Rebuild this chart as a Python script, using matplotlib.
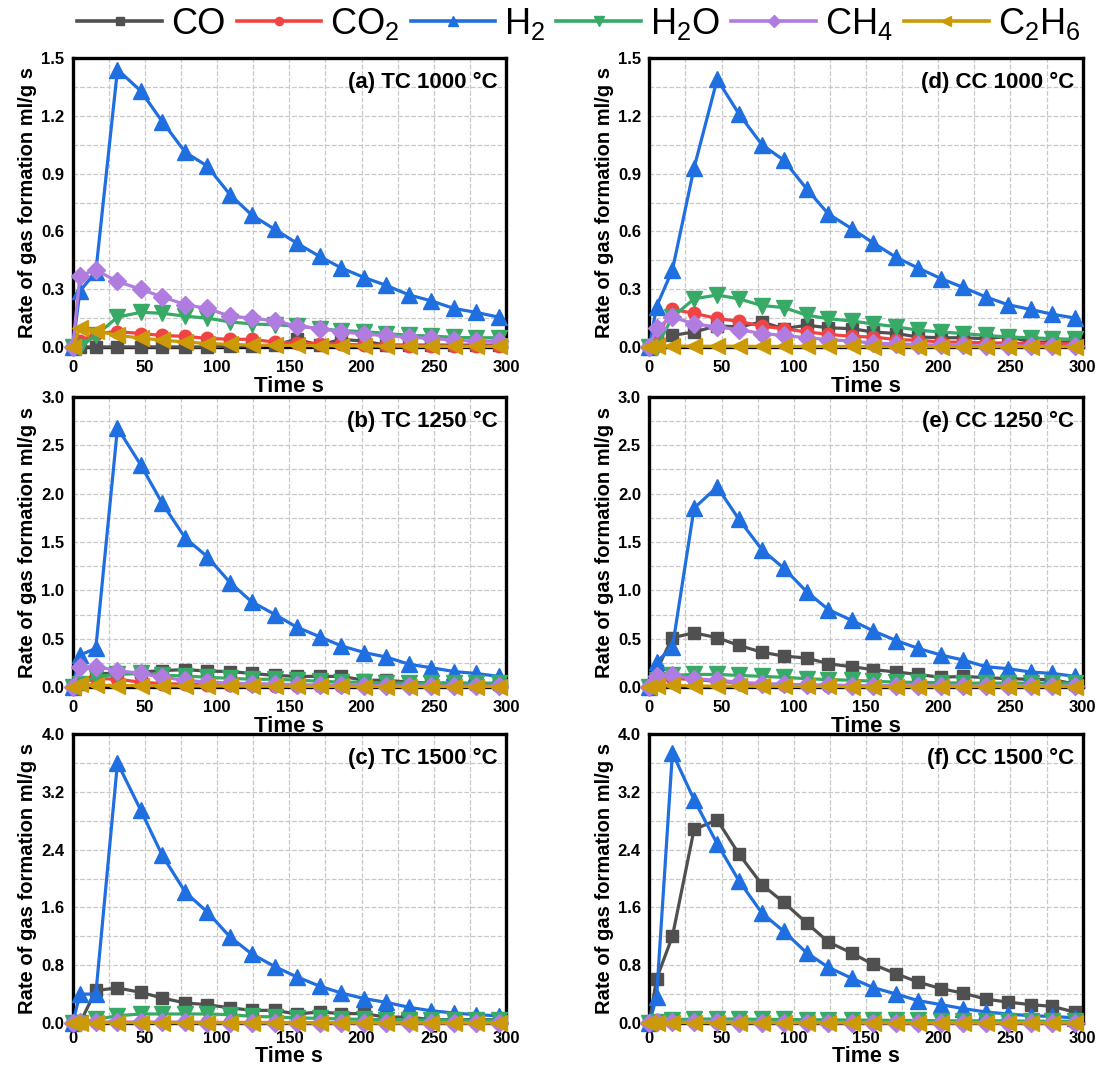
"""Gas formation rate vs time for TC / CC at three temperatures (6 panels)."""

import matplotlib
matplotlib.use("Agg")
import matplotlib.pyplot as plt
from matplotlib.ticker import MultipleLocator, FormatStrFormatter

plt.rcParams["font.family"] = ["Liberation Sans", "DejaVu Sans"]
plt.rcParams["mathtext.fontset"] = "custom"
plt.rcParams["mathtext.rm"] = "Liberation Sans"
plt.rcParams["mathtext.default"] = "regular"

# time axis (s), shared by all panels
time_s = [0, 5, 16, 31, 47, 62, 78, 93, 109, 124, 140, 155, 171, 186, 202, 217, 233, 248, 264, 279, 295]

gas_labels = ["CO", "CO$_2$", "H$_2$", "H$_2$O", "CH$_4$", "C$_2$H$_6$"]
gas_colors = ["#505050", "#f04444", "#1f6fe0", "#36aa66", "#b07ce0", "#cc9a06"]
gas_markers = ["s", "o", "^", "v", "D", "<"]

# (a) TC 1000 °C
co_a = [0, 0, 0, 0, 0, 0, 0, 0, 0.005, 0.005, 0.01, 0.04, 0.01, 0.04, 0.03, 0.01, 0.01, 0.01, 0.01, 0.01, 0.01]
co2_a = [0, 0.03, 0.07, 0.08, 0.07, 0.06, 0.055, 0.045, 0.04, 0.04, 0.025, 0.02, 0.018, 0.015, 0.01, 0.01, 0.006, 0.005, 0.005, 0.005, 0.005]
h2_a = [0, 0.29, 0.39, 1.44, 1.33, 1.17, 1.01, 0.94, 0.79, 0.685, 0.61, 0.54, 0.47, 0.41, 0.36, 0.32, 0.27, 0.24, 0.20, 0.18, 0.155]
h2o_a = [0, 0, 0.06, 0.155, 0.18, 0.175, 0.16, 0.15, 0.13, 0.12, 0.115, 0.11, 0.095, 0.085, 0.08, 0.07, 0.06, 0.057, 0.05, 0.048, 0.048]
ch4_a = [0, 0.37, 0.40, 0.34, 0.30, 0.26, 0.22, 0.20, 0.16, 0.15, 0.135, 0.11, 0.095, 0.08, 0.066, 0.06, 0.05, 0.045, 0.035, 0.03, 0.03]
c2h6_a = [0, 0.10, 0.085, 0.06, 0.047, 0.035, 0.026, 0.018, 0.014, 0.01, 0.009, 0.008, 0.007, 0.006, 0.005, 0.005, 0.004, 0.004, 0.003, 0.003, 0.003]

# (b) TC 1250 °C
co_b = [0, 0.03, 0.14, 0.14, 0.155, 0.17, 0.18, 0.165, 0.16, 0.14, 0.12, 0.11, 0.11, 0.11, 0.07, 0.07, 0.05, 0.04, 0.04, 0.035, 0.035]
co2_b = [0, 0.04, 0.09, 0.08, 0.05, 0.035, 0.03, 0.025, 0.02, 0.02, 0.015, 0.015, 0.01, 0.01, 0.01, 0.01, 0.01, 0.01, 0.01, 0.01, 0.01]
h2_b = [0, 0.33, 0.40, 2.68, 2.30, 1.90, 1.54, 1.35, 1.08, 0.88, 0.75, 0.62, 0.52, 0.425, 0.356, 0.31, 0.235, 0.20, 0.16, 0.14, 0.11]
h2o_b = [0, 0.03, 0.11, 0.13, 0.14, 0.12, 0.115, 0.10, 0.09, 0.08, 0.08, 0.07, 0.06, 0.05, 0.05, 0.04, 0.04, 0.04, 0.04, 0.04, 0.04]
ch4_b = [0, 0.21, 0.21, 0.17, 0.14, 0.10, 0.07, 0.05, 0.04, 0.035, 0.03, 0.025, 0.02, 0.02, 0.015, 0.015, 0.01, 0.01, 0.01, 0.01, 0.01]
c2h6_b = [0, 0.03, 0.02, 0.015, 0.015, 0.012, 0.01, 0.01, 0.01, 0.008, 0.008, 0.007, 0.006, 0.006, 0.005, 0.005, 0.005, 0.005, 0.005, 0.005, 0.005]

# (c) TC 1500 °C
co_c = [0, 0, 0.45, 0.485, 0.425, 0.346, 0.277, 0.254, 0.21, 0.175, 0.175, 0.125, 0.152, 0.13, 0.13, 0.08, 0.083, 0.046, 0.046, 0.046, 0.046]
co2_c = [0, 0.01, 0.01, 0.01, 0.01, 0.01, 0.01, 0.008, 0.008, 0.008, 0.008, 0.006, 0.006, 0.006, 0.005, 0.005, 0.005, 0.005, 0.005, 0.005, 0.005]
h2_c = [0, 0.40, 0.40, 3.60, 2.95, 2.32, 1.81, 1.54, 1.19, 0.955, 0.78, 0.64, 0.51, 0.415, 0.337, 0.286, 0.217, 0.17, 0.138, 0.115, 0.10]
h2o_c = [0, 0, 0.05, 0.10, 0.125, 0.125, 0.125, 0.125, 0.115, 0.092, 0.083, 0.07, 0.065, 0.055, 0.05, 0.046, 0.04, 0.04, 0.04, 0.04, 0.04]
ch4_c = [0, 0.01, 0.01, 0.01, 0.01, 0.008, 0.008, 0.006, 0.006, 0.005, 0.005, 0.005, 0.004, 0.004, 0.004, 0.003, 0.003, 0.003, 0.003, 0.003, 0.003]
c2h6_c = [0, 0.005, 0.005, 0.005, 0.005, 0.004, 0.004, 0.004, 0.004, 0.003, 0.003, 0.003, 0.003, 0.003, 0.003, 0.002, 0.002, 0.002, 0.002, 0.002, 0.002]

# (d) CC 1000 °C
co_d = [0, 0.01, 0.06, 0.078, 0.11, 0.104, 0.13, 0.095, 0.113, 0.10, 0.095, 0.078, 0.07, 0.052, 0.048, 0.048, 0.043, 0.055, 0.026, 0.026, 0.026]
co2_d = [0, 0.05, 0.195, 0.175, 0.148, 0.133, 0.108, 0.095, 0.078, 0.066, 0.055, 0.052, 0.038, 0.035, 0.026, 0.025, 0.022, 0.02, 0.018, 0.017, 0.017]
h2_d = [0, 0.21, 0.40, 0.93, 1.39, 1.21, 1.05, 0.97, 0.82, 0.69, 0.615, 0.54, 0.465, 0.41, 0.355, 0.31, 0.26, 0.22, 0.195, 0.17, 0.15]
h2o_d = [0, 0, 0.155, 0.25, 0.27, 0.25, 0.215, 0.205, 0.165, 0.147, 0.135, 0.12, 0.105, 0.087, 0.078, 0.07, 0.06, 0.052, 0.048, 0.043, 0.04]
ch4_d = [0, 0.10, 0.155, 0.12, 0.104, 0.09, 0.07, 0.06, 0.048, 0.038, 0.031, 0.02, 0.017, 0.012, 0.01, 0.008, 0.006, 0.005, 0.004, 0.003, 0.003]
c2h6_d = [0, 0.005, 0.005, 0.004, 0.004, 0.004, 0.003, 0.003, 0.003, 0.003, 0.003, 0.002, 0.002, 0.002, 0.002, 0.002, 0.002, 0.002, 0.002, 0.002, 0.002]

# (e) CC 1250 °C
co_e = [0, 0.17, 0.51, 0.56, 0.51, 0.43, 0.36, 0.32, 0.30, 0.24, 0.21, 0.18, 0.155, 0.13, 0.10, 0.11, 0.097, 0.086, 0.08, 0.076, 0.03]
co2_e = [0, 0.086, 0.09, 0.076, 0.06, 0.04, 0.03, 0.02, 0.02, 0.015, 0.015, 0.01, 0.01, 0.01, 0.01, 0.008, 0.008, 0.008, 0.006, 0.006, 0.006]
h2_e = [0, 0.26, 0.41, 1.85, 2.07, 1.735, 1.42, 1.23, 0.985, 0.80, 0.69, 0.58, 0.48, 0.40, 0.33, 0.28, 0.21, 0.19, 0.155, 0.14, 0.11]
h2o_e = [0, 0.07, 0.12, 0.13, 0.13, 0.12, 0.11, 0.10, 0.086, 0.076, 0.07, 0.06, 0.05, 0.048, 0.045, 0.04, 0.04, 0.04, 0.04, 0.04, 0.04]
ch4_e = [0, 0.11, 0.12, 0.086, 0.07, 0.05, 0.035, 0.03, 0.02, 0.02, 0.015, 0.015, 0.01, 0.01, 0.01, 0.01, 0.01, 0.008, 0.008, 0.008, 0.008]
c2h6_e = [0, 0.015, 0.017, 0.01, 0.01, 0.008, 0.008, 0.007, 0.006, 0.006, 0.005, 0.005, 0.005, 0.005, 0.005, 0.005, 0.005, 0.005, 0.005, 0.005, 0.005]

# (f) CC 1500 °C
co_f = [0, 0.61, 1.20, 2.68, 2.81, 2.34, 1.915, 1.67, 1.384, 1.12, 0.97, 0.81, 0.68, 0.567, 0.475, 0.415, 0.33, 0.29, 0.254, 0.23, 0.148]
co2_f = [0, 0.01, 0.01, 0.01, 0.01, 0.01, 0.008, 0.008, 0.008, 0.006, 0.006, 0.006, 0.005, 0.005, 0.005, 0.005, 0.005, 0.005, 0.005, 0.005, 0.005]
h2_f = [0, 0.355, 3.74, 3.09, 2.48, 1.97, 1.52, 1.27, 0.97, 0.77, 0.62, 0.49, 0.40, 0.31, 0.254, 0.20, 0.152, 0.125, 0.10, 0.092, 0.07]
h2o_f = [0, 0.02, 0.046, 0.055, 0.055, 0.055, 0.05, 0.05, 0.045, 0.045, 0.04, 0.04, 0.035, 0.035, 0.03, 0.03, 0.03, 0.03, 0.025, 0.025, 0.025]
ch4_f = [0, 0.01, 0.01, 0.008, 0.008, 0.006, 0.006, 0.005, 0.005, 0.005, 0.004, 0.004, 0.004, 0.003, 0.003, 0.003, 0.003, 0.003, 0.003, 0.003, 0.003]
c2h6_f = [0, 0.005, 0.005, 0.004, 0.004, 0.004, 0.003, 0.003, 0.003, 0.003, 0.003, 0.002, 0.002, 0.002, 0.002, 0.002, 0.002, 0.002, 0.002, 0.002, 0.002]

panel_titles = ["(a) TC 1000 °C", "(b) TC 1250 °C", "(c) TC 1500 °C",
                "(d) CC 1000 °C", "(e) CC 1250 °C", "(f) CC 1500 °C"]
panel_series = [
    [co_a, co2_a, h2_a, h2o_a, ch4_a, c2h6_a],
    [co_b, co2_b, h2_b, h2o_b, ch4_b, c2h6_b],
    [co_c, co2_c, h2_c, h2o_c, ch4_c, c2h6_c],
    [co_d, co2_d, h2_d, h2o_d, ch4_d, c2h6_d],
    [co_e, co2_e, h2_e, h2o_e, ch4_e, c2h6_e],
    [co_f, co2_f, h2_f, h2o_f, ch4_f, c2h6_f],
]
y_max = [1.5, 3.0, 4.0, 1.5, 3.0, 4.0]
y_step = [0.3, 0.5, 0.8, 0.3, 0.5, 0.8]

W, H = 1101, 1070
fig = plt.figure(figsize=(W / 100, H / 100), dpi=100)

# axes boxes in pixels (left, top, right, bottom)
col_px = [(72.7, 506.0), (649.3, 1082.7)]
row_px = [(58, 347), (397, 687), (734, 1023)]

for i in range(6):
    col, row = divmod(i, 3)
    x0, x1 = col_px[col]
    y0, y1 = row_px[row]
    ax = fig.add_axes([x0 / W, 1 - y1 / H, (x1 - x0) / W, (y1 - y0) / H])

    for vals, lab, c, m in zip(panel_series[i], gas_labels, gas_colors, gas_markers):
        ms = 11 if m in ("^", "v", "<") else 9
        ax.plot(time_s, vals, color=c, marker=m, markersize=ms, linewidth=2.3,
                label=lab, clip_on=False, zorder=3)

    ax.set_xlim(0, 300)
    ax.set_ylim(0, y_max[i])
    ax.xaxis.set_major_locator(MultipleLocator(50))
    ax.xaxis.set_minor_locator(MultipleLocator(25))
    ax.yaxis.set_major_locator(MultipleLocator(y_step[i]))
    ax.yaxis.set_minor_locator(MultipleLocator(y_step[i] / 2))
    ax.yaxis.set_major_formatter(FormatStrFormatter("%.1f"))
    ax.grid(True, which="both", color="#c8c8c8", linestyle="--", linewidth=0.9)
    ax.set_axisbelow(True)
    ax.tick_params(which="both", length=0, labelsize=12)
    ax.tick_params(axis="x", pad=6 if row == 2 else 9)
    ax.tick_params(axis="y", pad=6)
    for lbl in ax.get_xticklabels() + ax.get_yticklabels():
        lbl.set_fontweight("bold")
    for sp in ax.spines.values():
        sp.set_linewidth(2.4)
        sp.set_color("black")

    # bottom row sits against the figure edge, so its x label is packed tighter
    if row == 2:
        ax.set_xlabel("Time s", fontsize=15.5, fontweight="bold", labelpad=0)
    else:
        ax.set_xlabel("Time s", fontsize=16, fontweight="bold", labelpad=1)
    ax.set_ylabel("Rate of gas formation ml/g s", fontsize=14.5, fontweight="bold", labelpad=3)
    ax.text(0.98, 0.915, panel_titles[i], transform=ax.transAxes, ha="right", va="center",
            fontsize=16, fontweight="bold")

handles, labels = ax.get_legend_handles_labels()
leg = fig.legend(handles, labels, loc="center", bbox_to_anchor=(579 / W, 1 - 24 / H), ncol=6,
                 frameon=False, fontsize=26, handlelength=2.35, handletextpad=0.25,
                 columnspacing=0.3, markerscale=0.65, borderaxespad=0)
for ln in leg.get_lines():
    ln.set_linewidth(2.6)

fig.savefig("out.png", dpi=100)
plt.close(fig)
